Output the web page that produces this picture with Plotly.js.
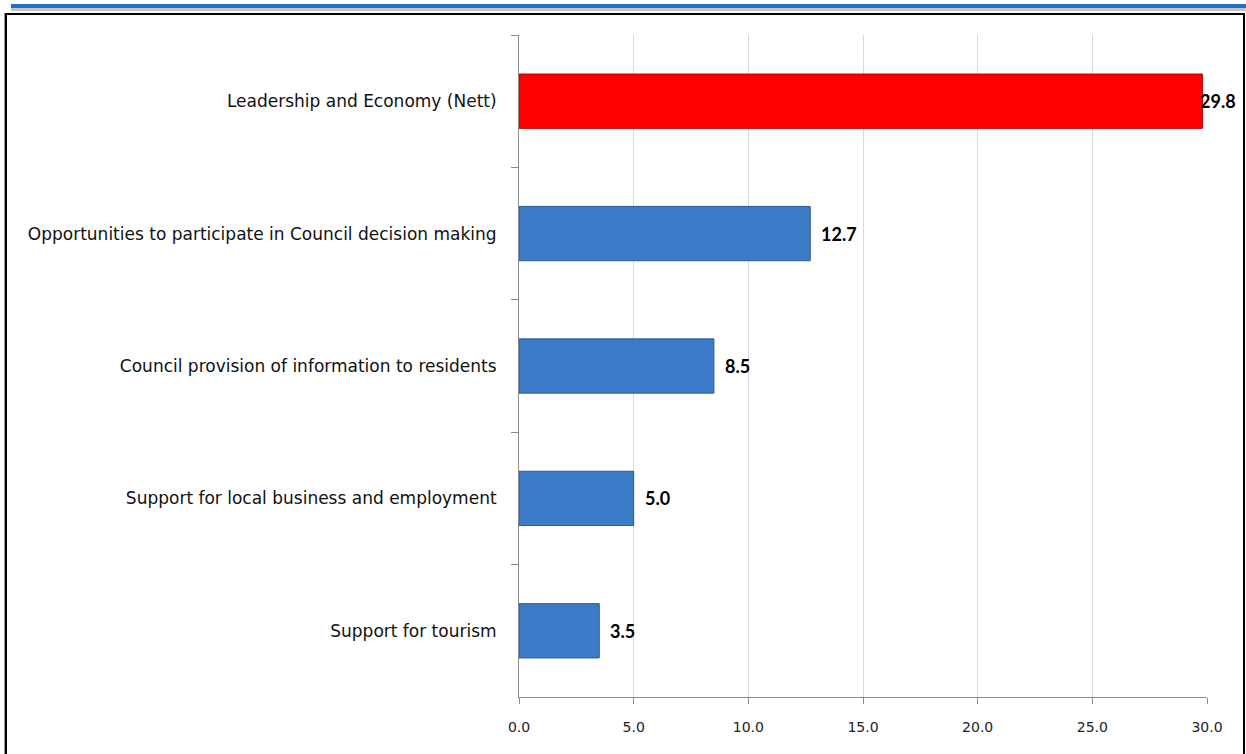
<!DOCTYPE html>
<html>
<head>
<meta charset="utf-8">
<script src="https://cdn.plot.ly/plotly-3.0.1.min.js"></script>
<style>
  html, body { margin: 0; padding: 0; background: #ffffff; }
  #wrap { position: relative; width: 1246px; height: 754px; overflow: hidden; }
  #blueline { position: absolute; left: 11px; top: 4px; width: 1235px; height: 4px; background: #1F6FC5; }
  #grayline { position: absolute; left: 11px; top: 8px; width: 1235px; height: 3px; background: #C4C4C4; }
  #frame { position: absolute; left: 5px; top: 13px; width: 1236px; height: 760px; border: 2px solid #000; box-shadow: -1px 0 0 #999; }
  #chart { position: absolute; left: 0; top: 0; width: 1246px; height: 754px; }
</style>
</head>
<body>
<div id="wrap">
  <div id="blueline"></div>
  <div id="grayline"></div>
  <div id="frame"></div>
  <div id="chart"></div>
</div>
<script>
const categories = [
  "Leadership and Economy (Nett)",
  "Opportunities to participate in Council decision making",
  "Council provision of information to residents",
  "Support for local business and employment",
  "Support for tourism"
];
const values = [29.8, 12.7, 8.5, 5.0, 3.5];
const barColors = ["#FF0000", "#3C7BC8", "#3C7BC8", "#3C7BC8", "#3C7BC8"];
const lineColors = ["#B00000", "#2A5B96", "#2A5B96", "#2A5B96", "#2A5B96"];
const xTicks = [0, 5, 10, 15, 20, 25, 30];

const maxVal = Math.max(...values);

const trace = {
  type: "bar",
  orientation: "h",
  x: values,
  y: categories,
  width: 0.41,
  marker: { color: barColors, line: { color: lineColors, width: 1 } },
  hoverinfo: "skip"
};

const annotations = values.map((v, i) => ({
  x: v, y: categories[i], xref: "x", yref: "y",
  text: v.toFixed(1),
  showarrow: false,
  xanchor: "left",
  xshift: v === maxVal ? -4 : 9,
  font: { family: "Lato, 'Open Sans', sans-serif", size: 18, color: "#000", weight: "bold" }
}));

const layout = {
  width: 1246, height: 754,
  margin: { l: 519, r: 39, t: 35, b: 57, pad: 0 },
  paper_bgcolor: "rgba(0,0,0,0)",
  plot_bgcolor: "rgba(0,0,0,0)",
  showlegend: false,
  font: { family: "'DejaVu Sans', sans-serif", color: "#111" },
  xaxis: {
    range: [0, 30],
    tickvals: xTicks,
    ticktext: xTicks.map(t => t.toFixed(1)),
    showgrid: true, gridcolor: "#D9D9D9", gridwidth: 1,
    zeroline: false,
    showline: true, linecolor: "#8C8C8C", linewidth: 1,
    ticks: "outside", ticklen: 6, tickcolor: "#8C8C8C",
    tickfont: { family: "'DejaVu Sans', sans-serif", size: 14, color: "#222" },
    ticklabelstandoff: 11,
    fixedrange: true
  },
  yaxis: {
    type: "category",
    categoryorder: "array",
    categoryarray: categories,
    autorange: "reversed",
    showgrid: false, zeroline: false,
    showline: true, linecolor: "#8C8C8C", linewidth: 1,
    ticks: "outside", ticklen: 7, tickcolor: "#8C8C8C",
    tickson: "boundaries",
    tickfont: { family: "'DejaVu Sans', sans-serif", size: 17, color: "#111" },
    ticklabelstandoff: 18,
    fixedrange: true
  },
  annotations: annotations
};

Plotly.newPlot("chart", [trace], layout, { displayModeBar: false, staticPlot: true });
</script>
</body>
</html>
